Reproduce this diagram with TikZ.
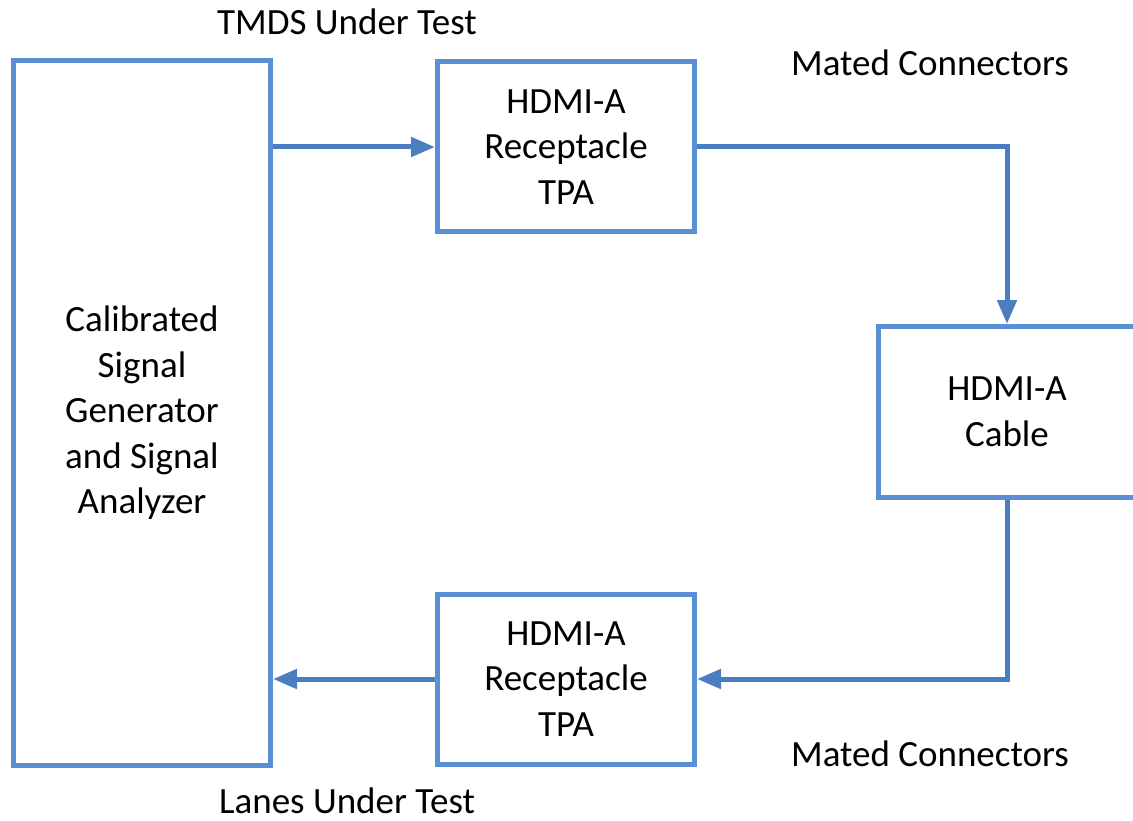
\documentclass[tikz,border=0pt]{standalone}
\usepackage{fontspec}
\setmainfont{Carlito}
\usetikzlibrary{arrows.meta}
\definecolor{boxblue}{RGB}{91,143,212}
\definecolor{linkblue}{RGB}{74,126,193}
\begin{document}
\begin{tikzpicture}[x=1pt,y=-1pt,
  blockbox/.style={draw=boxblue,line width=5pt,rectangle,minimum width=257pt,align=center,
    font=\fontsize{37}{45.5}\selectfont,inner sep=0pt},
  link/.style={draw=linkblue,line width=5pt,-{Triangle[length=24pt,width=19pt]}},
  lbl/.style={font=\fontsize{37}{45}\selectfont,inner sep=0pt}]
\useasboundingbox (0,0) rectangle (1133,821);
\clip (0,0) rectangle (1133,821);
\node[blockbox,minimum height=704pt] (sg) at (142,413) {Calibrated\\Signal\\Generator\\and Signal\\Analyzer};
\node[blockbox,minimum height=170pt] (tpa1) at (566,147) {HDMI-A\\Receptacle\\TPA};
\node[blockbox,minimum height=171pt] (cable) at (1007,412) {HDMI-A\\Cable};
\node[blockbox,minimum height=170pt] (tpa2) at (566,679) {HDMI-A\\Receptacle\\TPA};
\node[lbl] (tmds) at (347,22) {TMDS Under Test};
\node[lbl] (mc1) at (930,63) {Mated Connectors};
\node[lbl] (mc2) at (930,754) {Mated Connectors};
\node[lbl] (lanes) at (347,801) {Lanes Under Test};
\draw[link] (sg.east |- tpa1.west) -- (tpa1.west);
\draw[link] (tpa1.east) -| (cable.north);
\draw[link] (cable.south) |- (tpa2.east);
\draw[link] (tpa2.west) -- (tpa2.west -| sg.east);
\end{tikzpicture}
\end{document}
